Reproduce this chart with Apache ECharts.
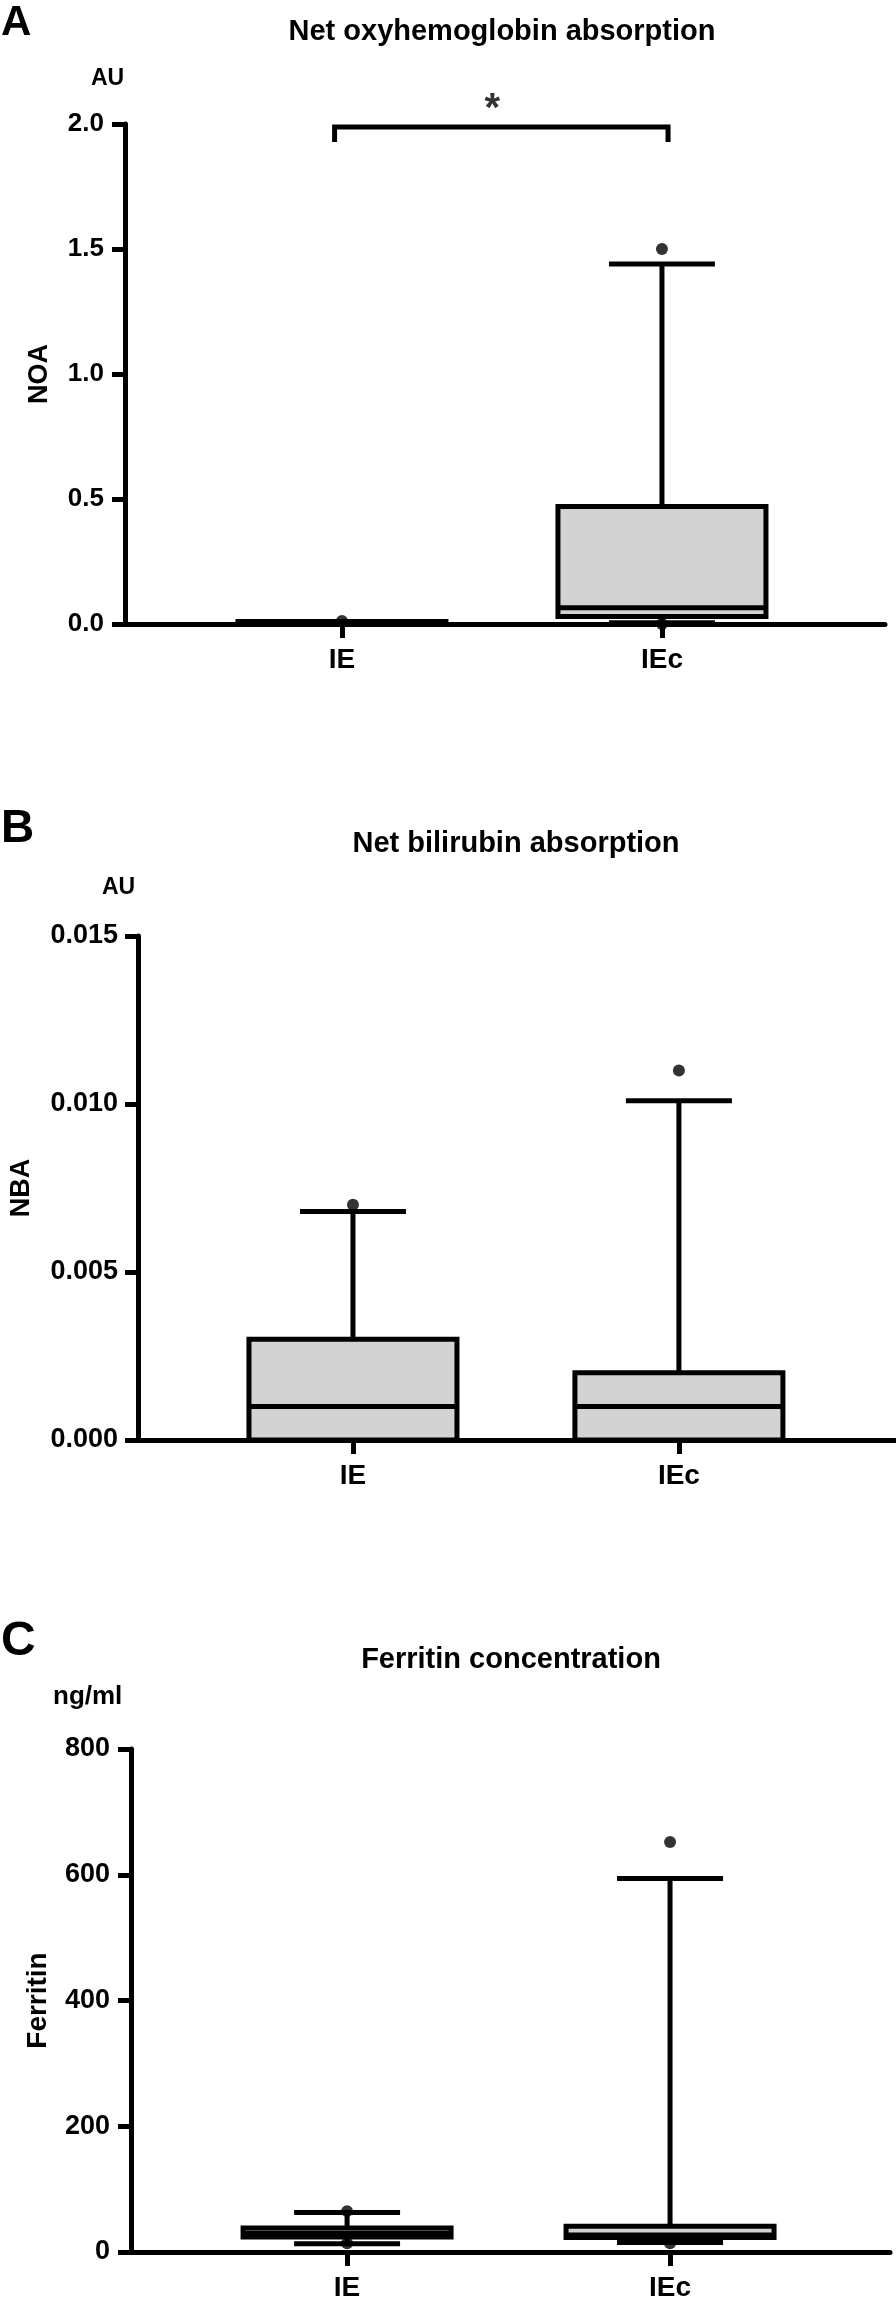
<!DOCTYPE html>
<html><head><meta charset="utf-8">
<script src="https://cdn.jsdelivr.net/npm/echarts@6/dist/echarts.min.js"></script>
<style>html,body{margin:0;padding:0;background:#fff}#c{width:896px;height:2302px}</style>
</head><body><div id="c"></div>
<script>
// ---------------- data ----------------
const categories = ['IE', 'IEc'];
const catPos = [1, 2];
// box summaries: [min, q1, median, q3, max]
const noaIE  = [0, 0, 0.005, 0.01, 0.01];
const noaIEc = [0.005, 0.03, 0.065, 0.47, 1.44];
const noaOutIE  = [0.012];
const noaOutIEc = [1.50, 0.0];

const nbaIE  = [0, 0, 0.001, 0.003, 0.0068];
const nbaIEc = [0, 0, 0.001, 0.002, 0.0101];
const nbaOutIE  = [0.007];
const nbaOutIEc = [0.011];

const ferIE  = [13, 24, 30, 38, 63];
const ferIEc = [15, 23, 27, 41, 594];
const ferOutIE  = [65, 14];
const ferOutIEc = [652, 14];

// significance bracket (panel A)
const sigBracketX = [0.977, 2.019];
const sigBracketY = [1.928, 1.988];
const sigMark = { x: 1.47, y: 2.058, text: '*' };

// axis ranges / ticks
const noaAxis = { min: 0, max: 2.0, interval: 0.5, decimals: 1 };
const nbaAxis = { min: 0, max: 0.015, interval: 0.005, decimals: 3 };
const ferAxis = { min: 0, max: 800, interval: 200, decimals: 0 };

const panelTitles = ['Net oxyhemoglobin absorption', 'Net bilirubin absorption', 'Ferritin concentration'];
const panelLetters = ['A', 'B', 'C'];
const units = ['AU', 'AU', 'ng/ml'];
const yNames = ['NOA', 'NBA', 'Ferritin'];

// ---------------- layout / style ----------------
const FONT = '"Liberation Sans", Arial, Helvetica, sans-serif';
const BLACK = '#000';
const FILL = '#d3d3d3';
const LW = 5;

const grids = [
  { left: 125, top: 124, width: 760, height: 500 },
  { left: 138, top: 936, width: 758, height: 504 },
  { left: 131, top: 1749, width: 759, height: 505 }
];
const xRanges = [[0.322, 2.697], [0.3405, 2.666], [0.331, 2.681]];
const yAxesCfg = [noaAxis, nbaAxis, ferAxis];
const yLabelFont = [26, 27, 27];
const yLabelMargin = [21, 20, 21];
const yNameGap = [71.5, 103, 79];
const yNameFont = [27, 27, 28];
const xLabelMargin = [22, 22, 22];

function boxRender(params, api) {
  const x = api.value(0);
  const mn = api.value(1), q1 = api.value(2), md = api.value(3), q3 = api.value(4), mx = api.value(5);
  const c = (v) => api.coord([x, v]);
  const cx = c(md)[0];
  const yMin = c(mn)[1], yQ1 = c(q1)[1], yMd = c(md)[1], yQ3 = c(q3)[1], yMax = c(mx)[1];
  const BH = 104, CH = 53;
  const ls = { stroke: BLACK, lineWidth: LW, lineCap: 'butt' };
  return {
    type: 'group',
    children: [
      { type: 'line', shape: { x1: cx, y1: yQ3, x2: cx, y2: yMax }, style: ls },
      { type: 'line', shape: { x1: cx, y1: yQ1, x2: cx, y2: yMin }, style: ls },
      { type: 'line', shape: { x1: cx - CH, y1: yMax, x2: cx + CH, y2: yMax }, style: ls },
      { type: 'line', shape: { x1: cx - CH, y1: yMin, x2: cx + CH, y2: yMin }, style: ls },
      { type: 'rect', shape: { x: cx - BH, y: yQ3, width: 2 * BH, height: yQ1 - yQ3 },
        style: { fill: FILL, stroke: BLACK, lineWidth: LW } },
      { type: 'line', shape: { x1: cx - BH, y1: yMd, x2: cx + BH, y2: yMd }, style: ls }
    ]
  };
}

const boxSets = [[noaIE, noaIEc], [nbaIE, nbaIEc], [ferIE, ferIEc]];
const outSets = [[noaOutIE, noaOutIEc], [nbaOutIE, nbaOutIEc], [ferOutIE, ferOutIEc]];

const xAxis = [], yAxis = [], series = [];
for (let i = 0; i < 3; i++) {
  const ya = yAxesCfg[i];
  xAxis.push({
    gridIndex: i, type: 'value', min: xRanges[i][0], max: xRanges[i][1],
    axisLine: { show: true, onZero: false, lineStyle: { color: BLACK, width: LW } },
    axisTick: { show: true, customValues: catPos, length: 14, lineStyle: { color: BLACK, width: LW } },
    axisLabel: { show: true, customValues: catPos, margin: xLabelMargin[i],
      formatter: (v) => categories[Math.round(v) - 1] || '',
      color: BLACK, fontFamily: FONT, fontWeight: 'bold', fontSize: 28 },
    splitLine: { show: false }
  });
  yAxis.push({
    gridIndex: i, type: 'value', min: ya.min, max: ya.max, interval: ya.interval,
    name: yNames[i], nameLocation: 'middle', nameGap: yNameGap[i],
    nameTextStyle: { color: BLACK, fontFamily: FONT, fontWeight: 'bold', fontSize: yNameFont[i] },
    axisLine: { show: true, onZero: false, lineStyle: { color: BLACK, width: LW } },
    axisTick: { show: true, length: 13, lineStyle: { color: BLACK, width: LW } },
    axisLabel: { margin: yLabelMargin[i], color: BLACK, fontFamily: FONT, fontWeight: 'bold',
      fontSize: yLabelFont[i], formatter: (v) => v.toFixed(ya.decimals) },
    splitLine: { show: false }
  });
  series.push({
    type: 'custom', xAxisIndex: i, yAxisIndex: i, clip: false,
    renderItem: boxRender,
    encode: { x: 0, y: [1, 2, 3, 4, 5] },
    data: boxSets[i].map((b, k) => [catPos[k]].concat(b)),
    z: 2
  });
  const pts = [];
  outSets[i].forEach((arr, k) => arr.forEach(v => pts.push([catPos[k], v])));
  series.push({
    type: 'scatter', xAxisIndex: i, yAxisIndex: i, clip: false,
    symbol: 'circle', symbolSize: 12, itemStyle: { color: BLACK },
    data: pts, z: 5
  });
}
// significance bracket
series.push({
  type: 'line', xAxisIndex: 0, yAxisIndex: 0, symbol: 'none', clip: false,
  lineStyle: { color: BLACK, width: LW, join: 'miter' },
  data: [[sigBracketX[0], sigBracketY[0]], [sigBracketX[0], sigBracketY[1]],
         [sigBracketX[1], sigBracketY[1]], [sigBracketX[1], sigBracketY[0]]],
  z: 3
});
series.push({
  type: 'scatter', xAxisIndex: 0, yAxisIndex: 0, clip: false,
  symbolSize: 1, itemStyle: { color: 'rgba(0,0,0,0)' },
  label: { show: true, position: 'inside', formatter: sigMark.text, color: BLACK,
    fontFamily: FONT, fontWeight: 'bold', fontSize: 40 },
  data: [[sigMark.x, sigMark.y]], z: 6
});

const titleTop = [17.5, 829.5, 1645.5];
const titleCenter = [502, 516, 511];
const letterTop = [2, 806, 1618];
const letterSize = [42, 46, 48];
const unitPos = [[91, 67, 23], [102, 876, 23], [53, 1684, 26]];

const title = [];
for (let i = 0; i < 3; i++) {
  title.push({ text: panelLetters[i], left: 1, top: letterTop[i], padding: 0,
    textStyle: { color: BLACK, fontFamily: FONT, fontWeight: 'bold', fontSize: letterSize[i] } });
  title.push({ text: panelTitles[i], left: titleCenter[i], top: titleTop[i], padding: 0, textAlign: 'center',
    textStyle: { color: BLACK, fontFamily: FONT, fontWeight: 'bold', fontSize: 29 } });
  title.push({ text: units[i], left: unitPos[i][0], top: unitPos[i][1], padding: 0,
    textStyle: { color: BLACK, fontFamily: FONT, fontWeight: 'bold', fontSize: unitPos[i][2] } });
}

const chart = echarts.init(document.getElementById('c'), null, { renderer: 'canvas' });
chart.setOption({
  backgroundColor: '#fff',
  animation: false,
  title: title,
  grid: grids,
  xAxis: xAxis,
  yAxis: yAxis,
  series: series
});
</script>
</body></html>
